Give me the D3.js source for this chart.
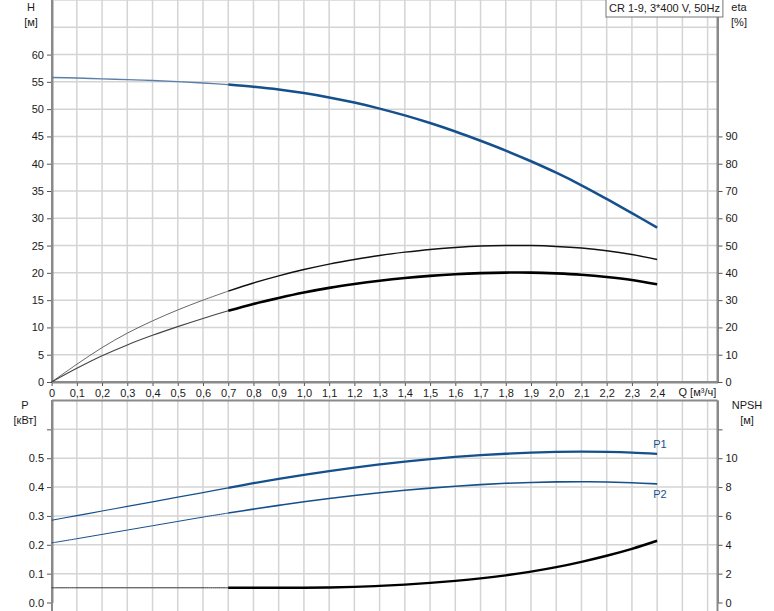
<!DOCTYPE html>
<html><head><meta charset="utf-8">
<script src="https://cdn.jsdelivr.net/npm/d3@7"></script>
<style>
body{margin:0;background:#fff;}
text{font-family:Arial,"Liberation Sans",sans-serif;font-size:11px;fill:#1a1a1a;}
</style></head>
<body><svg id="c" width="774" height="611"></svg>
<script>
const Q = [0,0.1,0.2,0.3,0.4,0.5,0.6,0.7,0.8,0.9,1.0,1.1,1.2,1.3,1.4,1.5,1.6,1.7,1.8,1.9,2.0,2.1,2.2,2.3,2.4];
const H = [55.8,55.7,55.55,55.4,55.25,55.05,54.8,54.5,54.1,53.6,52.95,52.15,51.2,50.1,48.85,47.45,45.9,44.2,42.4,40.45,38.35,36.05,33.55,30.95,28.3];
const etaUpper = [0,6.5,12.6,17.9,22.4,26.4,30.0,33.3,36.3,38.9,41.2,43.2,44.9,46.4,47.6,48.6,49.3,49.8,50.0,50.0,49.7,49.1,48.1,46.7,44.9];
const etaLower = [0,5.0,9.6,13.6,17.1,20.3,23.3,26.1,28.6,30.8,32.8,34.5,35.9,37.1,38.1,38.9,39.5,39.9,40.1,40.1,39.8,39.3,38.5,37.4,35.8];
const P1 = [0.285,0.301,0.317,0.333,0.349,0.365,0.381,0.397,0.4135,0.4285,0.4425,0.4555,0.4675,0.4785,0.4885,0.4970,0.5045,0.5105,0.5155,0.5195,0.5220,0.5230,0.5220,0.5195,0.515];
const P2 = [0.2065,0.221,0.236,0.251,0.266,0.281,0.296,0.310,0.3235,0.3365,0.349,0.3605,0.371,0.3805,0.389,0.3965,0.403,0.4085,0.413,0.416,0.418,0.4185,0.4175,0.415,0.411];
const NPSH = [1.02,1.02,1.02,1.02,1.02,1.02,1.02,1.02,1.02,1.02,1.02,1.04,1.08,1.15,1.24,1.36,1.50,1.67,1.88,2.14,2.45,2.82,3.24,3.72,4.28];
const xTicks = [0,0.1,0.2,0.3,0.4,0.5,0.6,0.7,0.8,0.9,1.0,1.1,1.2,1.3,1.4,1.5,1.6,1.7,1.8,1.9,2.0,2.1,2.2,2.3,2.4];
const hTicks = [0,5,10,15,20,25,30,35,40,45,50,55,60];
const etaTicks = [0,10,20,30,40,50,60,70,80,90];
const pTicks = [0,0.1,0.2,0.3,0.4,0.5,0.6];
const npshTicks = [0,2,4,6,8,10,12];
const legendText = "CR 1-9, 3*400 V, 50Hz";

const svg = d3.select("#c");
const L = 52, R = 717.5;
const x = d3.scaleLinear().domain([0,2.64]).range([51.6,717.7]);
const yH = d3.scaleLinear().domain([0,70]).range([382,0]);
const yEta = d3.scaleLinear().domain([0,140]).range([382,0]);
const yP = d3.scaleLinear().domain([0,0.7]).range([602.5,400.5]);
const yN = d3.scaleLinear().domain([0,14]).range([602.5,400.5]);

const gridC = "#d4d4d4", axC = "#8a8a8a", blue = "#15508d";
const vGrid = d3.range(1,27).map(i=>i/10);

// Top grid
const g1 = svg.append("g");
g1.selectAll("line.v").data(vGrid).join("line")
  .attr("x1",d=>x(d)).attr("x2",d=>x(d)).attr("y1",0).attr("y2",382)
  .attr("stroke",gridC).attr("stroke-width",1.5);
g1.selectAll("line.h").data(d3.range(5,75,5)).join("line")
  .attr("x1",L).attr("x2",R).attr("y1",d=>yH(d)).attr("y2",d=>yH(d))
  .attr("stroke",gridC).attr("stroke-width",1.5);
// Bottom grid
const g2 = svg.append("g");
g2.selectAll("line.v").data(vGrid).join("line")
  .attr("x1",d=>x(d)).attr("x2",d=>x(d)).attr("y1",400.5).attr("y2",611)
  .attr("stroke",gridC).attr("stroke-width",1.5);
g2.selectAll("line.h").data([0.1,0.2,0.3,0.4,0.5,0.6]).join("line")
  .attr("x1",L).attr("x2",R).attr("y1",d=>yP(d)).attr("y2",d=>yP(d))
  .attr("stroke",gridC).attr("stroke-width",1.5);

function styleAxis(g){
  g.select(".domain").attr("stroke",axC).attr("stroke-width",2);
  g.selectAll(".tick line").attr("stroke","#555").attr("stroke-width",1);
  g.selectAll(".tick text").attr("fill","#1a1a1a").style("font-size","11px").style("font-family","Arial, 'Liberation Sans', sans-serif");
}
const fmtC = d => d===0 ? "0" : d3.format(".1f")(d).replace(".",",");
svg.append("g").attr("transform","translate(0,382)")
  .call(d3.axisBottom(x).tickValues(xTicks).tickFormat(fmtC).tickSize(4).tickSizeOuter(0).tickPadding(3))
  .call(styleAxis);
svg.append("g").attr("transform","translate("+L+",0)")
  .call(d3.axisLeft(yH).tickValues(hTicks).tickSize(5).tickSizeOuter(0).tickPadding(3))
  .call(styleAxis);
svg.append("g").attr("transform","translate("+R+",0)")
  .call(d3.axisRight(yEta).tickValues(etaTicks).tickSize(5).tickSizeOuter(0).tickPadding(3))
  .call(styleAxis);
svg.append("line").attr("x1",L).attr("x2",L).attr("y1",0).attr("y2",382).attr("stroke",axC).attr("stroke-width",2);
svg.append("line").attr("x1",R).attr("x2",R).attr("y1",0).attr("y2",382).attr("stroke",axC).attr("stroke-width",2);
svg.append("line").attr("x1",L).attr("x2",R).attr("y1",382).attr("y2",382).attr("stroke",axC).attr("stroke-width",2);
svg.append("text").attr("x",x(2.5)+15).attr("y",396).attr("text-anchor","middle").text("Q [м³/ч]");

svg.append("g").attr("transform","translate("+L+",0)")
  .call(d3.axisLeft(yP).tickValues(pTicks).tickFormat(d=>d===0.6?"":d3.format(".1f")(d)).tickSize(5).tickSizeOuter(0).tickPadding(3))
  .call(styleAxis);
svg.append("g").attr("transform","translate("+R+",0)")
  .call(d3.axisRight(yN).tickValues(npshTicks).tickFormat(d=>d===12?"":d).tickSize(5).tickSizeOuter(0).tickPadding(3))
  .call(styleAxis);
svg.append("line").attr("x1",L).attr("x2",L).attr("y1",400).attr("y2",611).attr("stroke",axC).attr("stroke-width",2);
svg.append("line").attr("x1",R).attr("x2",R).attr("y1",400).attr("y2",611).attr("stroke",axC).attr("stroke-width",2);
svg.append("line").attr("x1",L).attr("x2",R).attr("y1",400.5).attr("y2",400.5).attr("stroke",axC).attr("stroke-width",2);

function title(tx,ty,lines){
  lines.forEach((t,i)=>svg.append("text").attr("x",tx).attr("y",ty+i*15).attr("text-anchor","middle").text(t));
}
title(31,11,["H","[м]"]);
title(739,11,["eta","[%]"]);
title(25,409,["P","[кВт]"]);
title(747,409,["NPSH","[м]"]);

const idx = d3.range(Q.length);
function seg(arr, from, to){ return idx.filter(i=>Q[i]>=from-1e-9 && Q[i]<=to+1e-9).map(i=>[Q[i],arr[i]]); }
const line = yS => d3.line().x(d=>x(d[0])).y(d=>yS(d[1])).curve(d3.curveCatmullRom.alpha(0.5));
function draw(arr, yS, color, w1, w2, c1){
  svg.append("path").datum(seg(arr,0,0.7)).attr("d",line(yS)).attr("fill","none").attr("stroke",c1||color).attr("stroke-width",w1);
  svg.append("path").datum(seg(arr,0.7,2.4)).attr("d",line(yS)).attr("fill","none").attr("stroke",color).attr("stroke-width",w2).attr("stroke-linecap","butt");
}
draw(H, yH, blue, 1.4, 2.5, "#5b7fa8");
draw(etaUpper, yEta, "#111", 0.9, 1.5, "#555");
draw(etaLower, yEta, "#000", 1.1, 2.6, "#444");
draw(P1, yP, blue, 1.2, 2.3);
draw(P2, yP, blue, 1.0, 1.6);
draw(NPSH, yN, "#000", 1.0, 2.4, "#333");

svg.append("text").attr("x",x(2.4)-4).attr("y",yP(P1[24])-6).style("fill",blue).text("P1");
svg.append("text").attr("x",x(2.4)-4).attr("y",yP(P2[24])+14).style("fill",blue).text("P2");

const lg = svg.append("g");
const lt = lg.append("text").attr("x",609).attr("y",12).text(legendText);
const bb = lt.node().getBBox();
lg.insert("rect","text").attr("x",bb.x-3).attr("y",-1).attr("width",bb.width+6).attr("height",18)
  .attr("fill","#fff").attr("stroke","#777").attr("stroke-width",1);
</script></body></html>
